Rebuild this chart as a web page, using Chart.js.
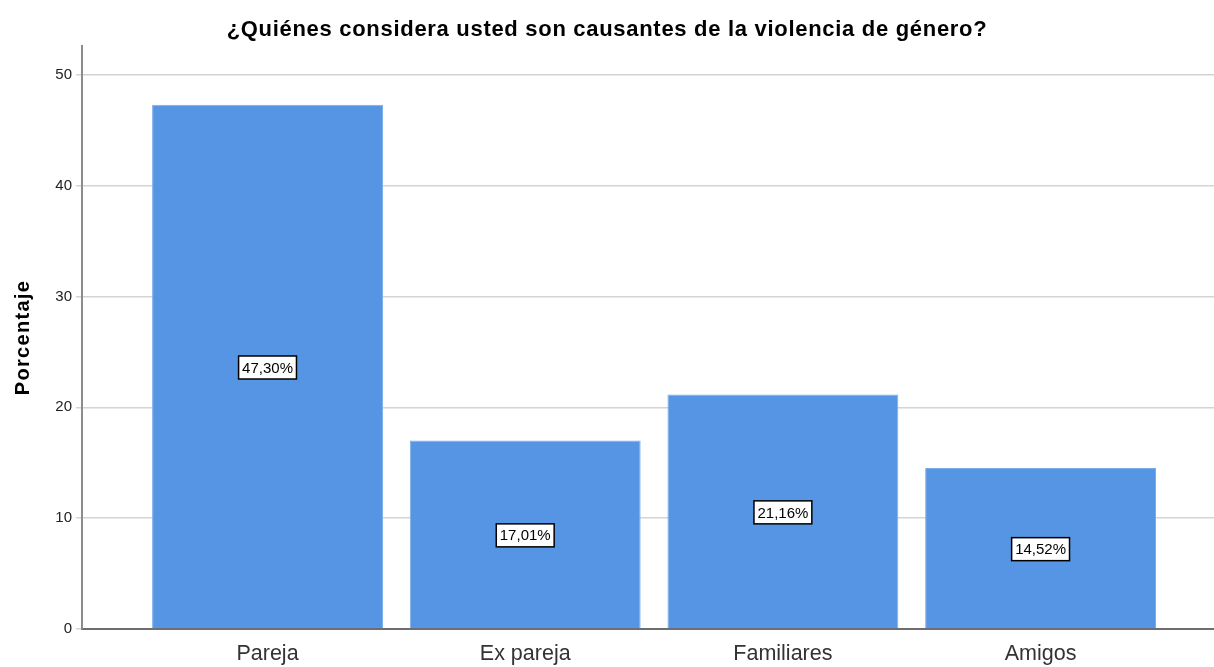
<!DOCTYPE html>
<html>
<head>
<meta charset="utf-8">
<title>Causantes de la violencia de género</title>
<script src="https://cdn.jsdelivr.net/npm/chart.js@4"></script>
<style>
    html, body { margin: 0; padding: 0; background: #fff; }
    #wrap { width: 1214px; height: 667px; }
</style>
</head>
<body>
<div id="wrap"><canvas id="chart"></canvas></div>
<script>
// data
const categories = ['Pareja', 'Ex pareja', 'Familiares', 'Amigos'];
const percentages = [47.30, 17.01, 21.16, 14.52];
const yTicks = [0, 10, 20, 30, 40, 50];

const chartTitle = '¿Quiénes considera usted son causantes de la violencia de género?';
const yTitle = 'Porcentaje';

const FONT = "'Liberation Sans', Arial, sans-serif";

// run a draw function with some extra letter spacing (the reference text is a bit spread out)
function withSpacing(obj, name, spacing) {
    const orig = obj[name];
    obj[name] = function() {
        const c = this.ctx || this.chart.ctx;
        const old = c.letterSpacing;
        c.letterSpacing = spacing;
        const r = orig.apply(this, arguments);
        c.letterSpacing = old;
        return r;
    };
}

const spacedText = {
    id: 'spacedText',
    afterLayout(chart) {
        if (chart.$spaced) return;
        chart.$spaced = true;
        withSpacing(chart.titleBlock, 'draw', '0.7px');
        withSpacing(chart.scales.y, 'drawTitle', '1.3px');
    }
};

// boxed labels in the middle of each bar
const boxLabels = {
    id: 'boxLabels',
    afterDatasetsDraw(chart) {
        const ctx = chart.ctx;
        const meta = chart.getDatasetMeta(0);
        ctx.save();
        ctx.font = '15px ' + FONT;
        ctx.textAlign = 'center';
        ctx.textBaseline = 'middle';
        meta.data.forEach(function(bar, i) {
            const text = percentages[i].toFixed(2).replace('.', ',') + '%';
            const cy = (bar.y + bar.base) / 2 + 1;
            const w = ctx.measureText(text).width + 7;
            const h = 23;
            ctx.fillStyle = '#ffffff';
            ctx.fillRect(bar.x - w / 2, cy - h / 2, w, h);
            ctx.strokeStyle = '#000000';
            ctx.lineWidth = 1.5;
            ctx.strokeRect(bar.x - w / 2, cy - h / 2, w, h);
            ctx.fillStyle = '#000000';
            ctx.fillText(text, bar.x, cy + 1);
        });
        ctx.restore();
    }
};

const ctx = document.getElementById('chart').getContext('2d');
new Chart(ctx, {
    type: 'bar',
    data: {
        datasets: [{
            data: percentages.map(function(v, i) { return { x: i, y: v }; }),
            backgroundColor: '#5595e3',
            borderColor: '#7aaee9',
            borderWidth: { top: 1, left: 1, right: 1, bottom: 0 },
            categoryPercentage: 1,
            barPercentage: 0.896
        }]
    },
    options: {
        responsive: true,
        maintainAspectRatio: false,
        animation: false,
        layout: { padding: 0 },
        scales: {
            x: {
                type: 'linear',
                offset: false,
                min: -0.72,
                max: 3.673,
                afterBuildTicks: function(scale) {
                    scale.ticks = categories.map(function(c, i) { return { value: i }; });
                },
                afterFit: function(scale) { scale.height = 38; },
                grid: { display: false, offset: false },
                border: { display: true, color: '#6e6e6e', width: 2 },
                ticks: {
                    color: '#333333',
                    font: { family: FONT, size: 21.5 },
                    padding: 4,
                    autoSkip: false,
                    maxRotation: 0,
                    callback: function(value) { return categories[value]; }
                }
            },
            y: {
                min: 0,
                max: 52.6,
                afterBuildTicks: function(scale) {
                    scale.ticks = yTicks.map(function(v) { return { value: v }; });
                },
                afterFit: function(scale) { scale.width = 82; },
                grid: { color: '#d4d4d4', lineWidth: 1.5, tickLength: 6, drawTicks: true },
                border: { display: true, color: '#8c8c8c', width: 2 },
                ticks: {
                    color: '#222222',
                    font: { family: FONT, size: 15 },
                    padding: 4
                },
                title: {
                    display: true,
                    text: yTitle,
                    color: '#000000',
                    font: { family: FONT, size: 20, weight: 'bold' },
                    padding: { top: 11, bottom: 0 }
                }
            }
        },
        plugins: {
            legend: { display: false },
            tooltip: { enabled: false },
            title: {
                display: true,
                text: chartTitle,
                color: '#000000',
                font: { family: FONT, size: 22, weight: 'bold' },
                padding: { top: 17, bottom: 2.6 }
            }
        }
    },
    plugins: [spacedText, boxLabels]
});
</script>
</body>
</html>
